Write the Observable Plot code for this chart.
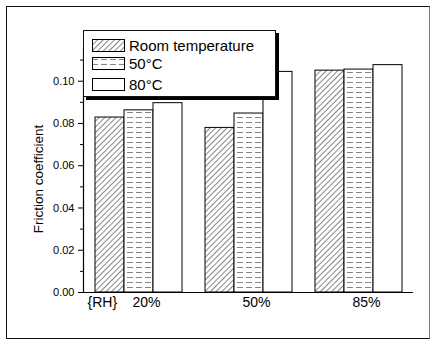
<!DOCTYPE html>
<html>
<head>
<meta charset="utf-8">
<script src="https://cdn.jsdelivr.net/npm/d3@7"></script>
<script src="https://cdn.jsdelivr.net/npm/@observablehq/plot@0.6"></script>
<style>
  body { margin: 0; background: #fff; }
  #wrap { position: relative; width: 434px; height: 343px; font-family: "Liberation Sans", Arial, sans-serif; }
  #border { position: absolute; left: 6px; top: 6px; width: 424px; height: 333px; box-sizing: border-box; border: 1.5px solid #111; border-right-color: #777; pointer-events: none; }
  #legend { position: absolute; left: 83px; top: 30px; width: 193px; height: 67px; box-sizing: border-box; border: 1.5px solid #111; box-shadow: 3px 3px 0 #000; background: #fff; }
  .row { position: absolute; left: 8px; height: 13px; display: flex; align-items: center; }
  .row svg { display: block; }
  .row span { margin-left: 4px; font-size: 15px; color: #000; line-height: 13px; }
</style>
</head>
<body>
<div id="wrap"></div>
<script>
const groups = ["20%", "50%", "85%"];
const series = ["Room temperature", "50°C", "80°C"];
const roomTemp = [0.0828, 0.0779, 0.1050];
const temp50 = [0.0862, 0.0847, 0.1055];
const temp80 = [0.0896, 0.1044, 0.1076];
const yTicks = [0, 0.02, 0.04, 0.06, 0.08, 0.10];
const yMinor = [0.01, 0.03, 0.05, 0.07, 0.09, 0.11];
const axisTitle = "Friction coefficient";
const groupTitle = "{RH}";

const valuesBySeries = [roomTemp, temp50, temp80];
const data = [];
groups.forEach((g, gi) => series.forEach((s, si) => data.push({group: g, series: s, value: valuesBySeries[si][gi]})));

const fills = ["url(#hatch)", "url(#dash)", "#fff"];

const chart = Plot.plot({
  width: 434,
  height: 343,
  marginLeft: 82,
  marginRight: 21,
  marginTop: 49,
  marginBottom: 51,
  style: {fontFamily: "Liberation Sans, Arial, sans-serif", fontSize: "11px", color: "#000", background: "transparent"},
  fx: {domain: groups, padding: 0, label: null, axis: null},
  x: {domain: series, paddingInner: 0, paddingOuter: 0.375, axis: null},
  y: {domain: [0, 0.115], axis: null},
  color: {domain: series, range: fills},
  marks: [
    Plot.barY(data, {fx: "group", x: "series", y: "value", fill: "series", stroke: "#000", strokeWidth: 1}),
    Plot.ruleY([0], {stroke: "#000", strokeWidth: 1.2}),
    Plot.frame({anchor: "left", facetAnchor: "left", stroke: "#000", strokeWidth: 1.2}),
    Plot.axisY({ticks: yTicks, tickFormat: d3.format(".2f"), tickSize: 5, tickPadding: 4, label: null, fontSize: 11}),
    Plot.axisY({ticks: yMinor, tickFormat: () => "", tickSize: 3, label: null}),
    Plot.axisFx({anchor: "bottom", tickSize: 0, tickPadding: 5, dx: 8, fontSize: 14, label: null}),
    Plot.text([groupTitle], {fx: () => groups[0], text: d => d, frameAnchor: "bottom-left", textAnchor: "start", lineAnchor: "top", dx: 4, dy: 5, fontSize: 14}),
    Plot.text([axisTitle], {fx: () => groups[0], text: d => d, frameAnchor: "left", rotate: -90, dx: -45, dy: 8, fontSize: 13.5, textAnchor: "middle"})
  ]
});

const svg = d3.select(chart);
const defs = svg.insert("defs", ":first-child");
const hatch = defs.append("pattern").attr("id", "hatch").attr("patternUnits", "userSpaceOnUse")
  .attr("width", 4).attr("height", 4).attr("patternTransform", "rotate(45)");
hatch.append("rect").attr("width", 4).attr("height", 4).attr("fill", "#fff");
hatch.append("line").attr("x1", 0).attr("y1", 0).attr("x2", 0).attr("y2", 4).attr("stroke", "#222").attr("stroke-width", 1.1);
const dash = defs.append("pattern").attr("id", "dash").attr("patternUnits", "userSpaceOnUse")
  .attr("width", 9).attr("height", 5);
dash.append("rect").attr("width", 9).attr("height", 5).attr("fill", "#fff");
dash.append("line").attr("x1", 0).attr("y1", 2.5).attr("x2", 6).attr("y2", 2.5).attr("stroke", "#666").attr("stroke-width", 0.8);

const wrap = document.getElementById("wrap");
wrap.appendChild(chart);

const border = document.createElement("div");
border.id = "border";
wrap.appendChild(border);

const legend = document.createElement("div");
legend.id = "legend";
const rowTops = [8, 26, 47];
series.forEach((s, i) => {
  const row = document.createElement("div");
  row.className = "row";
  row.style.top = rowTops[i] + "px";
  row.innerHTML = `<svg width="33" height="13"><rect x="0.5" y="0.5" width="32" height="12" fill="${fills[i]}" stroke="#000" stroke-width="1"/></svg><span>${s}</span>`;
  legend.appendChild(row);
});
wrap.appendChild(legend);
</script>
</body>
</html>
